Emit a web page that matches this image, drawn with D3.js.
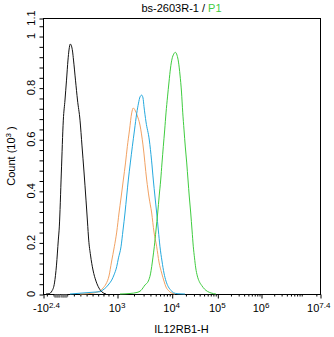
<!DOCTYPE html>
<html>
<head>
<meta charset="utf-8">
<script src="https://cdn.jsdelivr.net/npm/d3@7"></script>
<style>
  html, body { margin: 0; padding: 0; background: #fff; }
  svg { display: block; font-family: "Liberation Sans", Arial, sans-serif; }
</style>
</head>
<body>
<svg id="chart" width="334" height="337"></svg>
<script>
// Histogram overlay: counts (x10^3) against display channel (0-1024) of IL12RB1-H
const blackCh = [11.1,22.2,33.3,42.5,49.9,56.6,60.3,67.7,75.1,81.3,86.9,92.4,96.1,100.9,105.4,109.1,112.8,120.1,127.5,136.8,144.2,151.6,159.0,164.5,169.0,175.6,184.8,195.9,207.0,218.1,232.9];
const blackCount = [0,0.001,0.012,0.043,0.112,0.209,0.260,0.469,0.674,0.752,0.829,0.907,0.946,0.969,0.961,0.942,0.907,0.829,0.752,0.674,0.574,0.473,0.364,0.279,0.209,0.151,0.093,0.050,0.023,0.008,0];

const orangeCh = [136.8,173.7,195.9,210.7,221.8,232.9,244.0,253.2,263.6,272.5,281.0,288.4,296.9,305.0,311.7,319.8,327.9,333.8,340.1,347.5,358.5,369.6,383.4,391.8,401.8,410.3,420.3,428.8,438.8,447.3,454.7,463.2,473.2,488.0];
const orangeCount = [0,0.002,0.006,0.012,0.023,0.039,0.070,0.124,0.183,0.240,0.314,0.372,0.442,0.508,0.571,0.636,0.702,0.721,0.713,0.694,0.655,0.578,0.442,0.376,0.314,0.240,0.183,0.124,0.081,0.050,0.027,0.014,0.005,0];

const blueCh = [99.8,136.8,173.7,199.6,210.7,221.8,235.5,244.0,254.0,262.5,272.5,279.1,288.4,295.8,303.1,309.4,315.4,322.8,330.2,338.3,346.4,353.1,358.6,364.9,369.7,373.4,380.8,393.0,401.2,407.8,414.1,420.3,426.3,432.5,439.8,447.3,454.7,463.2,473.2,481.7,499.1,524.9];
const blueCount = [0,0.003,0.006,0.008,0.009,0.016,0.028,0.039,0.054,0.074,0.106,0.140,0.183,0.248,0.314,0.380,0.442,0.508,0.571,0.636,0.700,0.740,0.764,0.771,0.760,0.726,0.667,0.597,0.519,0.442,0.376,0.314,0.248,0.183,0.128,0.081,0.050,0.028,0.014,0.005,0.001,0];

const greenCh = [284.7,321.6,347.5,362.3,377.1,389.3,397.4,401.8,406.6,411.4,417.7,424.0,429.5,435.1,439.9,444.7,449.9,454.7,460.3,465.8,471.4,476.9,483.2,489.1,495.4,500.9,506.5,512.0,516.5,521.3,526.1,531.3,536.1,540.9,546.1,550.9,555.7,560.1,564.6,570.5,577.9,586.7,597.1,608.1,621.1,639.5];
const greenCount = [0,0.002,0.006,0.014,0.035,0.050,0.078,0.106,0.143,0.183,0.248,0.314,0.380,0.442,0.508,0.571,0.636,0.702,0.764,0.822,0.876,0.911,0.930,0.937,0.926,0.899,0.849,0.783,0.705,0.636,0.570,0.508,0.442,0.376,0.314,0.248,0.183,0.140,0.101,0.070,0.048,0.033,0.019,0.010,0.004,0];

// Axis labels
const xTickValues = [-Math.pow(10, 2.4), 1e3, 1e4, 1e5, 1e6, Math.pow(10, 7.4)];
const xTickBase = ["-10", "10", "10", "10", "10", "10"];
const xTickExp = ["2.4", "3", "4", "5", "6", "7.4"];
const yTickValues = [0, 0.2, 0.4, 0.6, 0.8, 1.0, 1.07];
const yTickLabels = ["0", "0.2", "0.4", "0.6", "0.8", "1", "1.1"];

const titleText = "bs-2603R-1 / ";
const gateText = "P1";
const xTitle = "IL12RB1-H";

const colors = { black: "#111111", orange: "#f2a263", blue: "#25a9de", green: "#3fcc3f" };

const margin = { left: 43, right: 14, top: 18, bottom: 43 };
const W = 334, H = 337;
const svg = d3.select("#chart");

const x = d3.scaleLinear().domain([0, 1024]).range([margin.left, W - margin.right]);
const y = d3.scaleLinear().domain([0, 1.07]).range([H - margin.bottom, margin.top]);

// Biexponential display: intensity -> channel
const lowMap = d3.scaleLinear()
  .domain([Math.asinh(-Math.pow(10, 2.4) / 800), Math.asinh(1000 / 800)])
  .range([0, 273.6]);
const highMap = d3.scaleLinear().domain([3, 4, 5, 6, 7.4]).range([273.6, 475.8, 644.4, 805.9, 1024]);
const toChannel = v => v < 1000 ? lowMap(Math.asinh(v / 800)) : highMap(Math.log10(v));

// Minor tick intensities
const nearZero = d3.range(-90, 100, 10).filter(v => v !== 0);
const lowMinor = [-200, -100].concat(d3.range(100, 1000, 100));
const decadeMinor = [];
for (let k = 3; k <= 7; k++) {
  for (let m = 2; m <= 9; m++) {
    const v = m * Math.pow(10, k);
    if (v < Math.pow(10, 7.4)) decadeMinor.push(v);
  }
}

// Frame
svg.append("rect")
  .attr("x", margin.left + 0.5).attr("y", margin.top + 0.5)
  .attr("width", W - margin.right - margin.left).attr("height", H - margin.bottom - margin.top)
  .attr("fill", "none").attr("stroke", "#000").attr("stroke-width", 1);

// Y axis ticks
const yMinor = d3.range(0, 1.041, 0.04);
const yAxis = d3.axisLeft(y).tickValues(yMinor.concat([1.07])).tickSize(4).tickFormat("");
svg.append("g").attr("transform", `translate(${margin.left + 0.5},0.5)`).call(yAxis)
  .call(g => g.select(".domain").remove());

svg.append("g").selectAll("text").data(yTickValues).join("text")
  .attr("transform", (d) => `translate(35,${y(d)}) rotate(-90)`)
  .attr("text-anchor", "middle")
  .attr("font-size", 11)
  .text((d, i) => yTickLabels[i]);

// X axis ticks
const xAxisMinor = d3.axisBottom(x).tickValues(lowMinor.concat(decadeMinor).map(toChannel)).tickSize(2).tickFormat("");
svg.append("g").attr("transform", `translate(0.5,${y(0) + 0.5})`).call(xAxisMinor)
  .call(g => g.select(".domain").remove());
const xAxisZero = d3.axisBottom(x).tickValues(nearZero.map(toChannel)).tickSize(3).tickFormat("");
svg.append("g").attr("transform", `translate(0.5,${y(0) + 0.5})`).call(xAxisZero)
  .call(g => g.select(".domain").remove())
  .call(g => g.selectAll("line").attr("stroke", "#777"));
const xAxisMajor = d3.axisBottom(x).tickValues(xTickValues.map(toChannel)).tickSize(4).tickFormat("");
svg.append("g").attr("transform", `translate(0.5,${y(0) + 0.5})`).call(xAxisMajor)
  .call(g => g.select(".domain").remove());

const xLabels = svg.append("g").selectAll("text").data(xTickValues).join("text")
  .attr("x", d => x(toChannel(d)))
  .attr("y", 312)
  .attr("text-anchor", "middle")
  .attr("font-size", 11);
xLabels.append("tspan").text((d, i) => xTickBase[i]);
xLabels.append("tspan").attr("font-size", 8).attr("dy", -4).text((d, i) => xTickExp[i]);
// keep labels inside the drawing
xLabels.each(function () {
  const b = this.getBBox();
  const cx = +this.getAttribute("x");
  let shift = 0;
  if (b.x < 33) shift = 33 - b.x;
  if (b.x + b.width > 331) shift = 331 - (b.x + b.width);
  this.setAttribute("x", cx + shift);
});

// Histogram lines
const line = d3.line().x(d => x(d[0])).y(d => y(d[1])).curve(d3.curveMonotoneX);
const series = [
  { ch: orangeCh, count: orangeCount, color: colors.orange },
  { ch: blueCh, count: blueCount, color: colors.blue },
  { ch: greenCh, count: greenCount, color: colors.green },
  { ch: blackCh, count: blackCount, color: colors.black }
];
svg.append("g").selectAll("path").data(series).join("path")
  .attr("d", s => line(s.ch.map((c, i) => [c, s.count[i]])))
  .attr("fill", "none")
  .attr("stroke", s => s.color)
  .attr("stroke-width", 1);

// Titles
const title = svg.append("text")
  .attr("x", (margin.left + W - margin.right) / 2)
  .attr("y", 11.5)
  .attr("text-anchor", "middle")
  .attr("font-size", 11);
title.append("tspan").attr("fill", "#000").text(titleText);
title.append("tspan").attr("fill", colors.green).text(gateText);

svg.append("text")
  .attr("x", (margin.left + W - margin.right) / 2)
  .attr("y", 333)
  .attr("text-anchor", "middle")
  .attr("font-size", 11)
  .text(xTitle);

const yTitle = svg.append("text")
  .attr("transform", `translate(15,${(margin.top + H - margin.bottom) / 2}) rotate(-90)`)
  .attr("text-anchor", "middle")
  .attr("font-size", 11);
yTitle.append("tspan").text("Count  (10");
yTitle.append("tspan").attr("font-size", 8).attr("dy", -4).text("3");
yTitle.append("tspan").attr("dy", 4).text(" )");
</script>
</body>
</html>
